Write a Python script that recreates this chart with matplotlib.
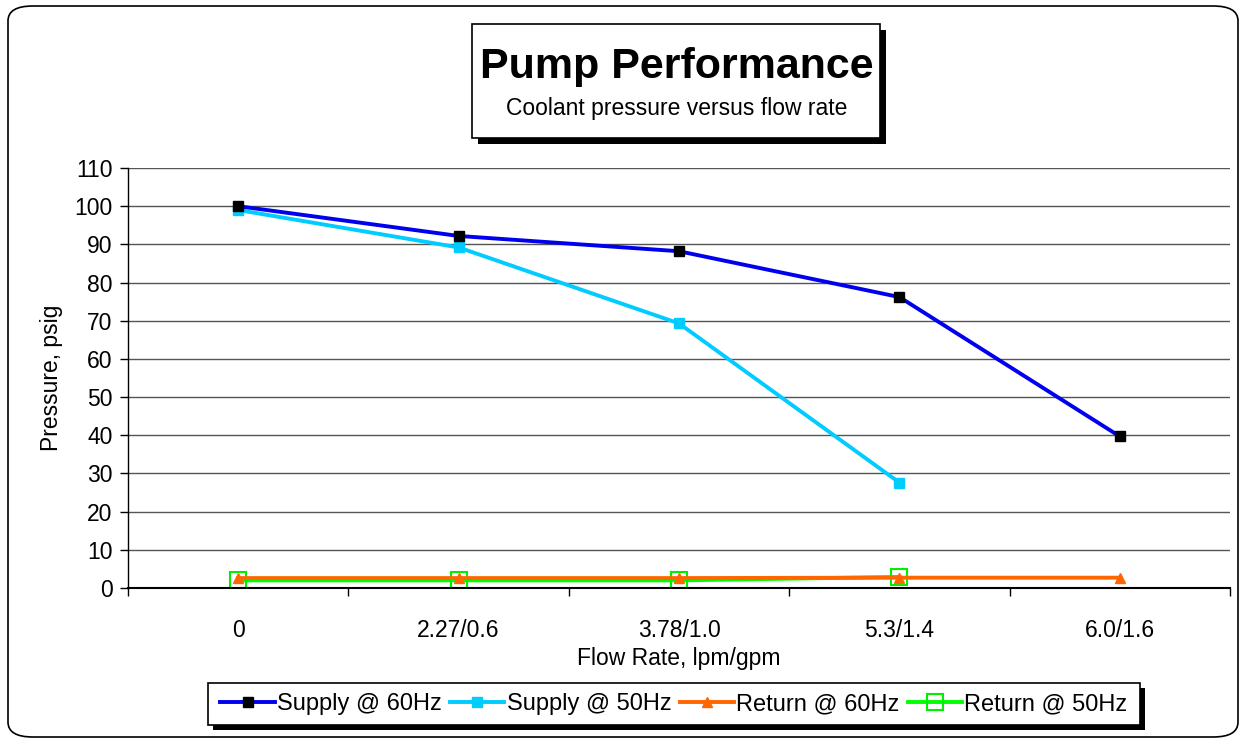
import matplotlib
matplotlib.use("Agg")
import matplotlib.pyplot as plt
from matplotlib.patches import FancyBboxPatch, Rectangle

plt.rcParams['font.family'] = ['Liberation Sans', 'DejaVu Sans']

categories = ["0", "2.27/0.6", "3.78/1.0", "5.3/1.4", "6.0/1.6"]
supply_60 = [100, 92.2, 88.2, 76.2, 39.7]
supply_50 = [99, 89.2, 69.3, 27.6]
return_60 = [2.6, 2.6, 2.6, 2.7, 2.7]
return_50 = [2.0, 2.0, 2.0, 2.9]
yticks = list(range(0, 111, 10))

W, H = 1246, 743
fig = plt.figure(figsize=(W/100, H/100), dpi=100)

# outer rounded border
fig.patches.append(FancyBboxPatch((8/W, 6/H), (W-16)/W, (H-12)/H,
                                  boxstyle="round,pad=0,rounding_size=0.02",
                                  transform=fig.transFigure, fill=False,
                                  edgecolor='black', linewidth=1.2))

ax = fig.add_axes([128/W, 1-588/H, (1230-128)/W, (588-168)/H])
x = list(range(len(categories)))
ax.plot(x, supply_60, color='#0000EE', lw=2.8, marker='s', ms=6.5,
        mfc='black', mec='black', label='Supply @ 60Hz', zorder=4)
ax.plot(x[:len(supply_50)], supply_50, color='#00CCFF', lw=2.8, marker='s', ms=6.5,
        mfc='#00CCFF', mec='#00CCFF', label='Supply @ 50Hz', zorder=3)
ax.plot(x, return_60, color='#FF6600', lw=2.8, marker='^', ms=6.5,
        mfc='#FF6600', mec='#FF6600', label='Return @ 60Hz', zorder=3)
ax.plot(x[:len(return_50)], return_50, color='#00FF00', lw=2.8, marker='s', ms=12,
        mfc='none', mec='#00EE00', mew=1.5, label='Return @ 50Hz', zorder=2)

ax.set_xlim(-0.5, len(categories) - 0.5)
ax.set_ylim(0, 110)
ax.set_yticks(yticks)
ax.set_yticklabels([str(v) for v in yticks], fontsize=16.5)
ax.yaxis.grid(True, color='#555555', lw=1)
ax.set_axisbelow(True)
ax.set_xticks([i - 0.5 for i in range(len(categories) + 1)])
ax.set_xticklabels([])
ax.set_xticks(x, minor=True)
ax.set_xticklabels(categories, minor=True, fontsize=16.5)
ax.tick_params(axis='x', which='minor', length=0, pad=22)
ax.tick_params(axis='x', which='major', length=6, direction='out', width=1)
ax.tick_params(axis='y', length=6, direction='out', width=1, pad=5)
for s in ['top', 'right']:
    ax.spines[s].set_visible(False)
ax.spines['left'].set_linewidth(1)
ax.spines['bottom'].set_linewidth(1.5)
ax.set_ylabel('Pressure, psig', fontsize=16.5, labelpad=8)
ax.set_xlabel('Flow Rate, lpm/gpm', fontsize=16.5, labelpad=4)

# title box with shadow
tx0, ty0, tx1, ty1 = 472, 24, 880, 138
fig.patches.append(Rectangle(((tx0+6)/W, 1-(ty1+6)/H), (tx1-tx0)/W, (ty1-ty0)/H,
                             transform=fig.transFigure, facecolor='black', edgecolor='none', zorder=5))
fig.patches.append(Rectangle((tx0/W, 1-ty1/H), (tx1-tx0)/W, (ty1-ty0)/H,
                             transform=fig.transFigure, facecolor='white', edgecolor='black', lw=1.2, zorder=6))
fig.text((tx0+tx1)/2/W + 1/W, 1-67/H, 'Pump Performance', ha='center', va='center',
         fontsize=31, fontweight='bold', zorder=7)
fig.text((tx0+tx1)/2/W + 1/W, 1-109/H, 'Coolant pressure versus flow rate', ha='center', va='center',
         fontsize=16.5, zorder=7)

# legend box with shadow
lx0, ly0, lx1, ly1 = 208, 683, 1140, 725
fig.patches.append(Rectangle(((lx0+5)/W, 1-(ly1+5)/H), (lx1-lx0)/W, (ly1-ly0)/H,
                             transform=fig.transFigure, facecolor='black', edgecolor='none', zorder=5))
fig.patches.append(Rectangle((lx0/W, 1-ly1/H), (lx1-lx0)/W, (ly1-ly0)/H,
                             transform=fig.transFigure, facecolor='white', edgecolor='black', lw=1.2, zorder=6))
handles, labels = ax.get_legend_handles_labels()
leg = fig.legend(handles, labels, loc='center', bbox_to_anchor=((lx0+lx1)/2/W, 1-(ly0+ly1)/2/H),
                 ncol=4, frameon=False, fontsize=17, handlelength=2.3, columnspacing=0.35,
                 handletextpad=0.1)
leg.set_zorder(7)

fig.savefig('out.png', dpi=100)
